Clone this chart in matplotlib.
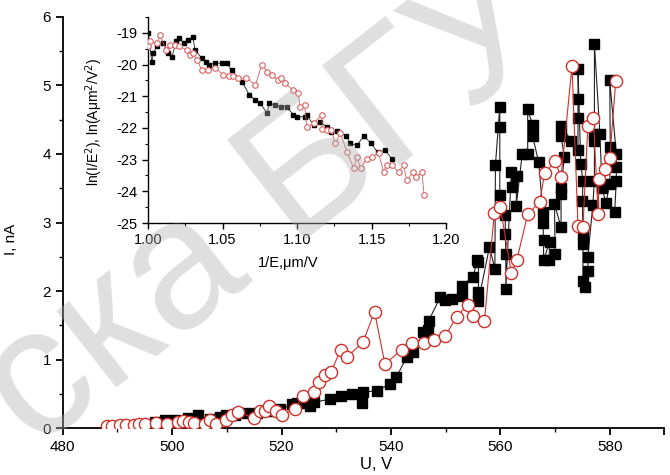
import matplotlib
matplotlib.use("Agg")
import matplotlib.pyplot as plt
import numpy as np

plt.rcParams['font.family'] = ['Liberation Sans', 'DejaVu Sans']

# ---- main plot data: black squares ----
black_U = [496.8, 498.7, 500.6, 502.9, 504.8, 506.9, 508.7, 509.8, 511.5, 513.5, 515.5, 517.5,
           519.8, 521.9, 522.8, 524.0, 525.2, 526.0, 528.9, 530.9, 532.8, 534.7, 534.9, 537.5,
           539.8, 541.0, 542.9, 544.1, 545.9, 546.8, 546.9, 549.0, 549.9, 551.1, 553.0, 553.0,
           555.0, 555.8, 556.0, 556.0, 556.0, 558.0, 559.0, 559.1, 559.9, 559.9, 559.9, 560.9,
           560.9, 561.0, 561.0, 562.0, 562.1, 563.0, 562.9, 564.0, 565.0, 565.0, 565.9, 565.9,
           567.0, 567.8, 567.8, 567.9, 567.9, 569.0, 568.9, 570.0, 569.9, 571.1, 571.1, 571.1,
           571.7, 571.1, 571.1, 573.0, 574.2, 574.2, 574.2, 574.2, 574.7, 575.1, 575.0, 575.1,
           575.1, 575.1, 575.5, 576.0, 576.0, 576.9, 577.2, 577.2, 577.2, 577.2, 578.2, 578.6,
           579.3, 580.0, 580.1, 580.0, 581.2, 581.2, 581.2, 580.9]
black_I = [0.09, 0.12, 0.12, 0.15, 0.19, 0.14, 0.16, 0.20, 0.20, 0.22, 0.23, 0.25,
           0.28, 0.35, 0.37, 0.37, 0.33, 0.38, 0.43, 0.47, 0.50, 0.37, 0.53, 0.55,
           0.65, 0.75, 1.04, 1.11, 1.40, 1.43, 1.57, 1.91, 1.87, 1.89, 1.93, 2.08,
           2.21, 2.45, 2.43, 1.99, 1.86, 2.64, 2.33, 3.84, 4.69, 4.39, 3.40, 3.11,
           2.84, 2.54, 2.03, 3.73, 3.52, 3.68, 3.24, 4.00, 4.00, 4.65, 4.42, 4.26,
           3.88, 3.15, 2.99, 2.74, 2.45, 2.72, 2.45, 2.54, 3.27, 2.93, 3.42, 3.51,
           3.95, 4.26, 4.41, 4.19, 4.05, 4.53, 4.80, 5.24, 3.85, 3.61, 3.32, 2.83,
           2.69, 2.15, 2.06, 2.30, 2.50, 3.25, 3.61, 4.19, 4.29, 5.60, 4.29, 3.51,
           3.28, 3.56, 4.10, 5.07, 4.00, 3.81, 3.61, 3.15]

# ---- main plot data: red open circles ----
red_U = [488.0, 489.0, 490.5, 491.5, 493.0, 494.0, 495.0, 497.0, 499.0, 501.0, 502.0, 503.0,
         504.0, 506.0, 507.0, 508.0, 509.9, 511.0, 512.0, 515.0, 516.0, 517.0, 517.7, 519.0,
         520.0, 522.5, 523.9, 525.9, 526.8, 528.0, 529.0, 530.8, 532.0, 534.9, 537.0, 538.9,
         542.0, 543.9, 546.0, 547.9, 549.9, 552.0, 554.0, 555.0, 557.1, 558.9, 560.0, 562.0,
         563.0, 565.0, 567.2, 568.1, 570.0, 571.1, 573.1, 574.2, 575.1, 576.0, 577.0, 577.9,
         578.0, 579.1, 580.0, 581.1]
red_I = [0.03, 0.04, 0.05, 0.05, 0.05, 0.06, 0.06, 0.08, 0.07, 0.10, 0.11, 0.09,
         0.08, 0.07, 0.12, 0.07, 0.13, 0.20, 0.24, 0.15, 0.25, 0.25, 0.33, 0.25,
         0.20, 0.29, 0.48, 0.53, 0.68, 0.78, 0.82, 1.14, 1.04, 1.26, 1.70, 0.94,
         1.15, 1.24, 1.24, 1.29, 1.34, 1.63, 1.80, 1.64, 1.57, 3.14, 3.22, 2.27,
         2.45, 3.12, 3.30, 3.72, 3.89, 3.66, 5.28, 2.95, 2.93, 4.41, 4.52, 3.12,
         3.63, 3.78, 3.94, 5.06]

# ---- inset data (Fowler-Nordheim) ----
fn_black_x = [1.000, 1.0025, 1.0036, 1.006, 1.010, 1.0136, 1.016, 1.019, 1.021, 1.024, 1.027,
              1.030, 1.0315, 1.036, 1.039, 1.041, 1.045, 1.0495, 1.053, 1.056, 1.063, 1.068,
              1.072, 1.075, 1.080, 1.081, 1.085, 1.089, 1.093, 1.0975, 1.0998, 1.105, 1.1065,
              1.111, 1.115, 1.120, 1.123, 1.127, 1.133, 1.1356, 1.140, 1.145, 1.1495, 1.154,
              1.159, 1.1635]
fn_black_y = [-19.0, -19.91, -19.64, -19.40, -19.33, -19.64, -19.75, -19.27, -19.17, -19.33, -19.22,
              -19.12, -19.54, -19.80, -19.91, -20.00, -19.96, -19.96, -19.96, -20.17, -20.54, -20.96,
              -21.12, -21.22, -21.54, -21.22, -21.28, -21.33, -21.33, -21.59, -21.65, -21.65, -21.59,
              -21.91, -21.80, -21.97, -22.12, -22.10, -22.25, -22.49, -22.54, -22.26, -22.49, -22.76,
              -22.70, -22.97]
fn_red_x = [1.000, 1.001, 1.006, 1.008, 1.012, 1.0148, 1.018, 1.021, 1.026, 1.028, 1.030, 1.033,
            1.036, 1.040, 1.045, 1.0505, 1.054, 1.057, 1.0606, 1.066, 1.072, 1.0763, 1.080, 1.083,
            1.087, 1.089, 1.092, 1.097, 1.1005, 1.102, 1.105, 1.1065, 1.111, 1.1165, 1.117, 1.120,
            1.123, 1.1255, 1.129, 1.1335, 1.138, 1.140, 1.1425, 1.1467, 1.150, 1.1546, 1.158, 1.160,
            1.1635, 1.168, 1.1714, 1.1736, 1.178, 1.180, 1.1837, 1.1852]
fn_red_y = [-19.40, -19.27, -19.33, -19.06, -19.54, -19.38, -19.38, -19.43, -19.54, -19.70, -19.64, -19.86,
            -20.17, -20.17, -20.10, -20.33, -20.36, -20.36, -20.43, -20.43, -20.64, -20.01, -20.22, -20.33,
            -20.49, -20.43, -20.59, -20.80, -20.90, -21.33, -21.28, -21.97, -21.86, -21.59, -22.02, -22.07,
            -22.07, -22.49, -22.17, -22.76, -23.28, -22.91, -23.28, -22.97, -22.91, -22.80, -23.39, -23.17,
            -23.17, -23.39, -23.18, -23.65, -23.39, -23.55, -23.39, -24.13]

main_xticks = [480, 500, 520, 540, 560, 580, 590]
main_xticklabels = ['480', '500', '520', '540', '560', '580', '']
main_yticks = [0, 1, 2, 3, 4, 5, 6]
inset_xticks = [1.00, 1.05, 1.10, 1.15, 1.20]
inset_yticks = [-25, -24, -23, -22, -21, -20, -19]

fig = plt.figure(figsize=(6.7, 4.75), dpi=100)

ax = fig.add_axes([0.0937, 0.098, 0.898, 0.867])
ax.patch.set_alpha(0)
ax.plot(black_U, black_I, color='#222222', lw=0.8, marker='s', ms=7.2,
        mfc='black', mec='black', zorder=3)
ax.plot(red_U, red_I, color='#d0302a', lw=0.8, marker='o', ms=8.8,
        mfc='white', mec='#d0302a', mew=1.0, zorder=4)
ax.set_xlim(480, 590)
ax.set_ylim(0, 6)
ax.set_xticks(main_xticks)
ax.set_xticklabels(main_xticklabels)
ax.set_xticks([490, 510, 530, 550, 570], minor=True)
ax.set_yticks(main_yticks)
ax.set_yticks([0.5, 1.5, 2.5, 3.5, 4.5, 5.5], minor=True)
for s in ['top', 'right']:
    ax.spines[s].set_visible(False)
for s in ['left', 'bottom']:
    ax.spines[s].set_linewidth(1.3)
ax.tick_params(which='major', direction='out', length=5, width=1.3, labelsize=11)
ax.tick_params(which='minor', direction='out', length=3, width=1.0)
ax.set_xlabel('U, V', fontsize=12)
ax.xaxis.set_label_coords(0.52, -0.07)
ax.set_ylabel('I, nA', fontsize=11)
ax.yaxis.set_label_coords(-0.075, 0.46)

# inset
ins = fig.add_axes([0.221, 0.5305, 0.445, 0.4337])
ins.patch.set_alpha(0)
ins.plot(fn_black_x, fn_black_y, color='#222222', lw=0.6, marker='s', ms=3.5,
         mfc='black', mec='black', zorder=3)
ins.plot(fn_red_x, fn_red_y, color='#d86060', lw=0.6, marker='o', ms=4,
         mfc='white', mec='#d86060', mew=0.8, zorder=4)
ins.set_xlim(1.00, 1.20)
ins.set_ylim(-25, -18.5)
ins.set_xticks(inset_xticks)
ins.set_xticklabels(['%.2f' % v for v in inset_xticks])
ins.set_xticks([1.025, 1.075, 1.125, 1.175], minor=True)
ins.set_yticks(inset_yticks)
ins.set_yticklabels(['%d' % v for v in inset_yticks])
ins.set_yticks([-24.5, -23.5, -22.5, -21.5, -20.5, -19.5, -18.5], minor=True)
for s in ['top', 'right']:
    ins.spines[s].set_visible(False)
for s in ['left', 'bottom']:
    ins.spines[s].set_linewidth(1.0)
ins.tick_params(which='major', direction='out', length=4, width=1.0, labelsize=10.5)
ins.tick_params(which='minor', direction='out', length=2.5, width=0.8)
ins.set_xlabel('1/E,\u03bcm/V', fontsize=10.5)
ins.xaxis.set_label_coords(0.47, -0.16)
ins.set_ylabel('ln(I/E$^2$), ln(A\u03bcm$^2$/V$^2$)', fontsize=10)
ins.yaxis.set_label_coords(-0.145, 0.49)

# watermark (semi-transparent, over the plot)
fig.text(0.40, 0.56, 'ска БГУ', fontsize=132, color='#b0b0b0', rotation=38,
         ha='center', va='center', zorder=10, alpha=0.4)

fig.savefig('out.png', dpi=100)
